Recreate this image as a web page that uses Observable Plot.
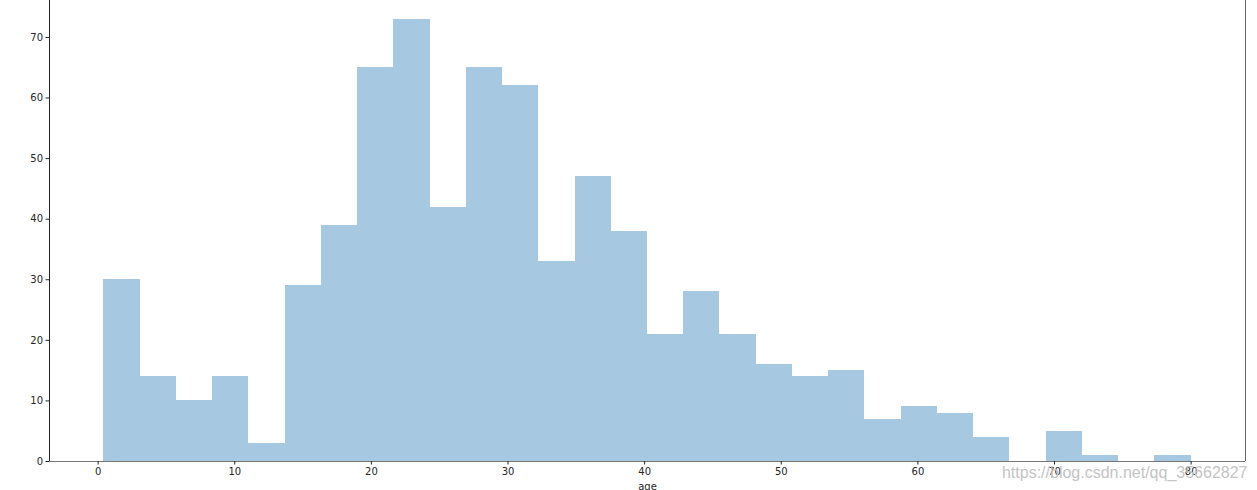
<!DOCTYPE html>
<html>
<head>
<meta charset="utf-8">
<script src="https://cdn.jsdelivr.net/npm/d3@7"></script>
<script src="https://cdn.jsdelivr.net/npm/@observablehq/plot@0.6"></script>
<style>
  html, body { margin: 0; padding: 0; background: #fff; }
  #chart { width: 1257px; height: 490px; overflow: hidden; }
</style>
</head>
<body>
<div id="chart"></div>
<script>
// Histogram of passenger age: 30 equal bins from 0.42 to 80
const binStart = 0.42;
const binEnd = 80;
const counts = [30, 14, 10, 14, 3, 29, 39, 65, 73, 42, 65, 62, 33, 47, 38, 21, 28, 21, 16, 14, 15, 7, 9, 8, 4, 0, 5, 1, 0, 1];
const xTicks = [0, 10, 20, 30, 40, 50, 60, 70, 80];
const yTicks = [0, 10, 20, 30, 40, 50, 60, 70];
const xLabel = "age";
const watermark = "https://blog.csdn.net/qq_35662827";

const width = (binEnd - binStart) / counts.length;
const bins = counts.map((c, i) => ({
  x1: binStart + i * width,
  x2: binStart + (i + 1) * width,
  count: c
}));

const xDomain = [-3.56, 83.98];

const chart = Plot.plot({
  width: 1257,
  height: 490,
  marginLeft: 49,
  marginRight: 12,
  marginTop: 0,
  marginBottom: 29,
  style: { fontFamily: "DejaVu Sans", fontSize: "10px", color: "#262626", background: "#fff" },
  x: { domain: xDomain },
  y: { domain: [0, 76.1] },
  marks: [
    Plot.rectY(bins, { x1: "x1", x2: "x2", y: "count", fill: "#a6c8e0", inset: 0, shapeRendering: "crispEdges" }),
    Plot.ruleX([xDomain[0]], { stroke: "#222" }),
    Plot.ruleX([xDomain[1]], { stroke: "#666" }),
    Plot.ruleY([0], { stroke: "#777" }),
    Plot.axisX({ ticks: xTicks, tickSize: 3.5, tickPadding: 3, fontSize: 10, label: xLabel, labelAnchor: "center", labelOffset: 28, labelArrow: "none" }),
    Plot.axisY({ ticks: yTicks, tickSize: 3.5, tickPadding: 3, fontSize: 10, label: null }),
    Plot.text([watermark], { frameAnchor: "bottom-right", text: d => d, dy: 16, dx: 2, fill: "#c4c4c4", fontSize: 16, fontFamily: "Liberation Sans" })
  ]
});
document.getElementById("chart").appendChild(chart);
</script>
</body>
</html>
